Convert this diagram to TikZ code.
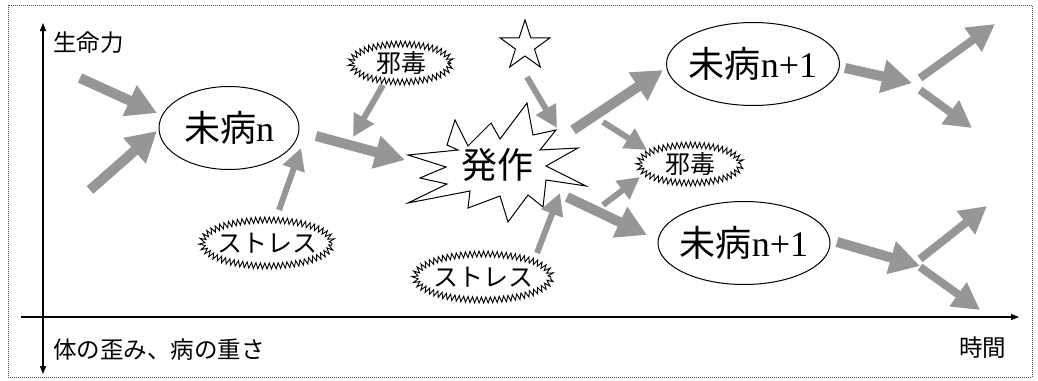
\documentclass[tikz,border=0pt]{standalone}
\usepackage{fontspec}
\setmainfont{Liberation Serif}
\newfontfamily\cjk{Noto Sans CJK JP}
\usetikzlibrary{arrows.meta,shapes.geometric,decorations.pathmorphing}
\definecolor{ag}{RGB}{150,150,150}
\tikzset{
  bigarrow/.style={draw=ag, line width=10pt, -{Triangle[length=30pt,width=32pt]}},
  midarrow/.style={draw=ag, line width=8pt, -{Triangle[length=27pt,width=28pt]}},
  thinarrow/.style={draw=ag, line width=6pt, -{Triangle[length=22pt,width=22pt]}},
  bubble/.style={ellipse, draw, line width=1pt, minimum height=83pt, inner sep=0pt},
  jag/.style={ellipse, draw, line width=0.9pt, inner sep=0pt, decorate,
    decoration={zigzag, segment length=4.5pt, amplitude=3pt}},
  bigtext/.style={font=\fontsize{36}{40}\selectfont},
  jtext/.style={font=\cjk\fontsize{25}{28}\selectfont},
  axlabel/.style={font=\cjk\fontsize{23.5}{27}\selectfont, anchor=west, inner sep=0pt},
  axisline/.style={line width=1.2pt, draw=black},
  burst/.style={draw, fill=white, line width=1pt, line join=miter}
}
\begin{document}
\begin{tikzpicture}[x=1pt,y=-1pt]
\useasboundingbox (0,0) rectangle (1038,380);
\draw[densely dotted, line width=1pt, black!70] (8,5) rectangle (1032,377);

% axes
\coordinate (ytop) at (43,23);
\coordinate (ybot) at (43,374);
\coordinate (xl) at (21,317);
\coordinate (xr) at (1019,317);
\draw[axisline, {Triangle[length=8pt,width=6pt]}-{Triangle[length=8pt,width=6pt]}] (ybot) -- (ytop);
\draw[axisline, -{Triangle[length=8pt,width=6pt]}] (xl) -- (xr);
\node[axlabel] (lY) at (53,43) {生命力};
\node[axlabel] (lD) at (53,350) {体の歪み、病の重さ};
\node[axlabel] (lT) at (959,348) {時間};

% nodes
\node[bubble, minimum width=140pt] (mn) at (229,128) {};
\node[bigtext] (mnt) at (mn) {{\cjk 未病}n};
\node[bubble, minimum width=173pt] (m1) at (753,64) {};
\node[bigtext] (m1t) at (m1) {{\cjk 未病}n+1};
\node[bubble, minimum width=172pt] (m2) at (744,243) {};
\node[bigtext] (m2t) at (m2) {{\cjk 未病}n+1};

% explosion (発作)
\draw[burst] (527,103) -- (533,135) -- (556,130) -- (540,150) -- (578,148)
  -- (546,166) -- (586,186) -- (546,180) -- (543,207) -- (528,195)
  -- (508,222) -- (500,196) -- (468,208) -- (470,191) -- (408,203)
  -- (447,184) -- (420,178) -- (446,167) -- (408,155) -- (458,150)
  -- (447,145) -- (455,120) -- (468,146) -- (491,123) -- (500,139) -- cycle;
\node[font=\cjk\fontsize{36}{40}\selectfont, inner sep=0pt] (hs) at (497,165) {発作};

\node[star, star points=5, star point ratio=2.6, draw, line width=1pt,
  minimum size=52pt, inner sep=1pt] (st) at (525,46) {};

\node[jag, minimum width=100pt, minimum height=38pt] (j1) at (401,63) {};
\node[jtext] (j1t) at (j1) {邪毒};
\node[jag, minimum width=102pt, minimum height=38pt] (j2) at (690,164) {};
\node[jtext] (j2t) at (j2) {邪毒};
\node[jag, minimum width=130pt, minimum height=46pt] (s1) at (267,243) {};
\node[jtext] (s1t) at (s1) {ストレス};
\node[jag, minimum width=136pt, minimum height=46pt] (s2) at (483,277) {};
\node[jtext] (s2t) at (s2) {ストレス};

% arrow end points
\coordinate (a1s) at (80,78);   \coordinate (a1e) at (157,113);
\coordinate (a2s) at (90,190);  \coordinate (a2e) at (157,131);
\coordinate (a3s) at (279,210); \coordinate (a3e) at (301,148);
\coordinate (a4s) at (316,136); \coordinate (a4e) at (405,160);
\coordinate (a5s) at (383,85);  \coordinate (a5e) at (353,137);
\coordinate (a6s) at (527,77);  \coordinate (a6e) at (557,128);
\coordinate (a7s) at (573,130); \coordinate (a7e) at (663,70);
\coordinate (a8s) at (603,122); \coordinate (a8e) at (647,150);
\coordinate (a9s) at (603,205); \coordinate (a9e) at (640,177);
\coordinate (a10s) at (537,253);\coordinate (a10e) at (560,193);
\coordinate (a11s) at (567,197);\coordinate (a11e) at (647,235);
\coordinate (a12s) at (845,68); \coordinate (a12e) at (912,83);
\coordinate (a13s) at (920,78); \coordinate (a13e) at (995,24);
\coordinate (a14s) at (920,90); \coordinate (a14e) at (972,128);
\coordinate (a15s) at (837,242);\coordinate (a15e) at (920,266);
\coordinate (a16s) at (920,259);\coordinate (a16e) at (987,206);
\coordinate (a17s) at (920,267);\coordinate (a17e) at (980,310);

\draw[bigarrow] (a1s) -- (a1e);
\draw[bigarrow] (a2s) -- (a2e);
\draw[thinarrow] (a3s) -- (a3e);
\draw[bigarrow] (a4s) -- (a4e);
\draw[thinarrow] (a5s) -- (a5e);
\draw[thinarrow] (a6s) -- (a6e);
\draw[bigarrow] (a7s) -- (a7e);
\draw[thinarrow] (a8s) -- (a8e);
\draw[thinarrow] (a9s) -- (a9e);
\draw[thinarrow] (a10s) -- (a10e);
\draw[bigarrow] (a11s) -- (a11e);
\draw[bigarrow] (a12s) -- (a12e);
\draw[midarrow] (a13s) -- (a13e);
\draw[midarrow] (a14s) -- (a14e);
\draw[bigarrow] (a15s) -- (a15e);
\draw[midarrow] (a16s) -- (a16e);
\draw[midarrow] (a17s) -- (a17e);
\end{tikzpicture}
\end{document}
